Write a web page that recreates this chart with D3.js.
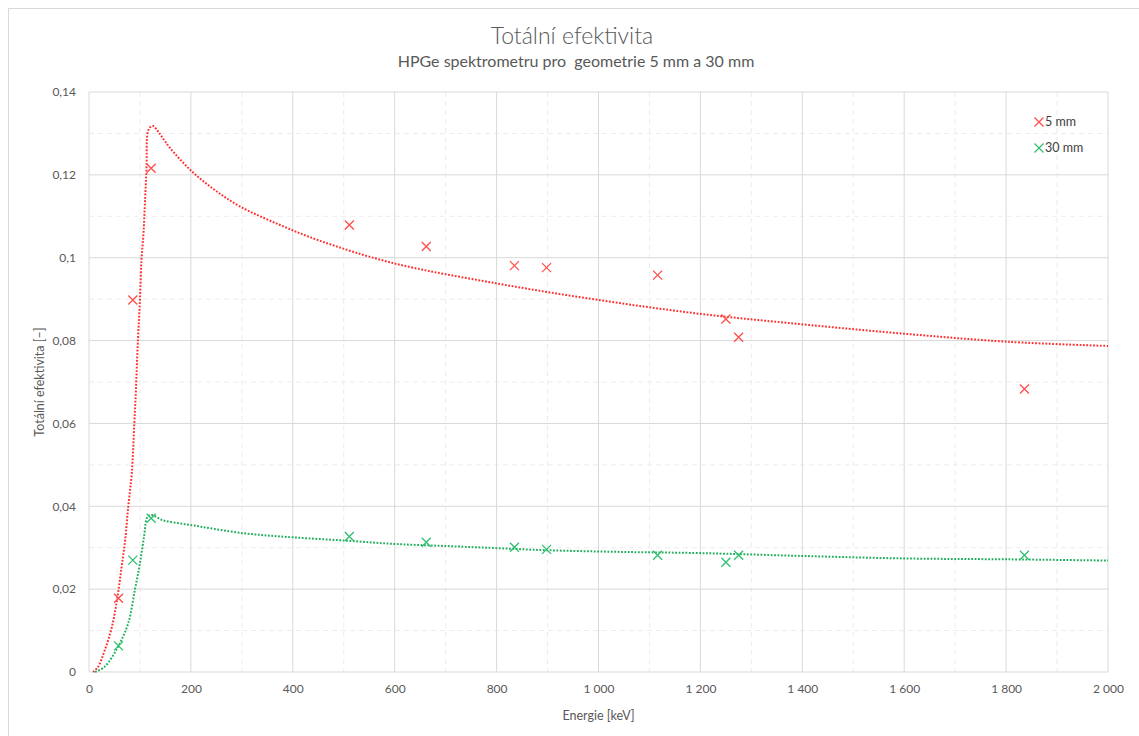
<!DOCTYPE html>
<html>
<head>
<meta charset="utf-8">
<title>Totální efektivita</title>
<script src="https://cdn.jsdelivr.net/npm/d3@7"></script>
<style>
	body { margin: 0; background: #fff; }
	#chart { width: 1139px; height: 736px; }
	text { font-family: Lato, "Open Sans", sans-serif; fill: #595959; }
	.tick text { font-size: 12px; }
	.title { font-size: 23px; font-weight: 300; }
	.subtitle { font-size: 16px; }
	.axisTitle { font-size: 12.5px; }
	.legend text { font-size: 12.5px; fill: #404040; }
</style>
</head>
<body>
<svg id="chart"></svg>
<script>

// measured energies [keV]
var energies = [58, 86, 122, 511, 662, 835, 898, 1116, 1250, 1275, 1836];

// measured efficiency
var eff5 = [0.0178, 0.0898, 0.1216, 0.1079, 0.1027, 0.0981, 0.0976, 0.0958, 0.0852, 0.0808, 0.0683];
var eff30 = [0.0063, 0.0270, 0.0371, 0.0327, 0.0313, 0.0301, 0.0296, 0.0282, 0.0265, 0.0282, 0.0282];

// fitted curves
var fit5E = [8, 18, 31, 45, 56, 64, 71, 77, 84, 89, 92, 96, 100, 103, 107, 110, 113, 115, 120, 126, 136, 143, 159, 198, 244, 296, 375, 453, 597, 800, 1000, 1203, 1402, 1605, 1805, 2000];
var fit5V = [0, 0.0013, 0.0053, 0.0109, 0.0182, 0.0254, 0.0319, 0.0399, 0.0481, 0.0601, 0.0678, 0.0801, 0.0898, 0.0994, 0.106, 0.1139, 0.1219, 0.1301, 0.1315, 0.1318, 0.1304, 0.1292, 0.1265, 0.1213, 0.1166, 0.1124, 0.1079, 0.1041, 0.0987, 0.0938, 0.0898, 0.0864, 0.0839, 0.0816, 0.0797, 0.0787];

var fit30E = [12, 31, 57, 77, 90, 100, 108, 115, 123, 143, 166, 198, 303, 401, 506, 601, 702, 800, 898, 1036, 1199, 1402, 1605, 1801, 2000];
var fit30V = [0, 0.0013, 0.0061, 0.0118, 0.0198, 0.0262, 0.0327, 0.0375, 0.0379, 0.0367, 0.0361, 0.0355, 0.0335, 0.0325, 0.0317, 0.0309, 0.0304, 0.0299, 0.0294, 0.029, 0.0287, 0.028, 0.0274, 0.0272, 0.0269];

var xTicks = d3.range(0, 2001, 200);
var yTicks = [0, 0.02, 0.04, 0.06, 0.08, 0.1, 0.12, 0.14];

var series = [
	{name: '5 mm', pts: eff5, fitE: fit5E, fitV: fit5V, mark: '#ff4d4d', line: '#ff2f2f'},
	{name: '30 mm', pts: eff30, fitE: fit30E, fitV: fit30V, mark: '#2fbf71', line: '#1fae5c'}
];

var cz = d3.formatLocale({decimal: ',', thousands: '\u00a0', grouping: [3], currency: ['', '']});

var svg = d3.select('#chart');

var plotL = 89, plotR = 1108, plotT = 92, plotB = 672;

var x = d3.scaleLinear().domain([0, 2000]).range([plotL, plotR]);
var y = d3.scaleLinear().domain([0, 0.14]).range([plotB, plotT]);

// chart border
svg.append('rect')
	.attr('x', 8.5).attr('y', 8.5)
	.attr('width', 1140).attr('height', 740)
	.attr('fill', 'none').attr('stroke', '#d9d9d9');

// minor grid
svg.append('g').selectAll('line')
	.data(d3.range(100, 2000, 200))
	.enter().append('line')
	.attr('x1', function(d) {return x(d);}).attr('x2', function(d) {return x(d);})
	.attr('y1', plotT).attr('y2', plotB)
	.attr('stroke', '#ececec').attr('stroke-dasharray', '5,4');

svg.append('g').selectAll('line')
	.data([0.01, 0.03, 0.05, 0.07, 0.09, 0.11, 0.13])
	.enter().append('line')
	.attr('y1', function(d) {return y(d);}).attr('y2', function(d) {return y(d);})
	.attr('x1', plotL).attr('x2', plotR)
	.attr('stroke', '#ececec').attr('stroke-dasharray', '5,4');

// major grid
svg.append('g').selectAll('line')
	.data(xTicks)
	.enter().append('line')
	.attr('x1', function(d) {return x(d);}).attr('x2', function(d) {return x(d);})
	.attr('y1', plotT).attr('y2', plotB)
	.attr('stroke', '#d9d9d9');

svg.append('g').selectAll('line')
	.data(yTicks)
	.enter().append('line')
	.attr('y1', function(d) {return y(d);}).attr('y2', function(d) {return y(d);})
	.attr('x1', plotL).attr('x2', plotR)
	.attr('stroke', '#d9d9d9');

// axes (labels only)
var xAxis = svg.append('g')
	.attr('transform', 'translate(0,' + plotB + ')')
	.call(d3.axisBottom(x).tickValues(xTicks).tickSize(0).tickPadding(12).tickFormat(cz.format(',')));
xAxis.select('.domain').remove();

var yAxis = svg.append('g')
	.attr('transform', 'translate(' + plotL + ',0)')
	.call(d3.axisLeft(y).tickValues(yTicks).tickSize(0).tickPadding(13).tickFormat(function(d) {return cz.format('~g')(d);}));
yAxis.select('.domain').remove();

svg.selectAll('g').attr('font-family', null).attr('font-size', null);

// fitted curves
var line = d3.line()
	.x(function(d) {return x(d[0]);})
	.y(function(d) {return y(d[1]);})
	.curve(d3.curveCatmullRom.alpha(0.5));

series.forEach(function(s) {
	svg.append('path')
		.datum(d3.zip(s.fitE, s.fitV))
		.attr('d', line)
		.attr('fill', 'none')
		.attr('stroke', s.line)
		.attr('stroke-width', 2)
		.attr('stroke-dasharray', '1.8,1.6');
});

// markers
function cross(sel, color) {
	sel.append('path')
		.attr('d', 'M-4.5,-4.5L4.5,4.5M-4.5,4.5L4.5,-4.5')
		.attr('stroke', color)
		.attr('stroke-width', 1.3)
		.attr('fill', 'none');
}

series.forEach(function(s) {
	svg.append('g').selectAll('g')
		.data(d3.zip(energies, s.pts))
		.enter().append('g')
		.attr('transform', function(d) {return 'translate(' + x(d[0]) + ',' + y(d[1]) + ')';})
		.call(cross, s.mark);
});

// titles
svg.append('text').classed('title', true)
	.attr('x', 572).attr('y', 44).attr('text-anchor', 'middle')
	.text('Totální efektivita');

svg.append('text').classed('subtitle', true)
	.attr('x', 576).attr('y', 67).attr('text-anchor', 'middle')
	.style('white-space', 'pre')
	.text('HPGe spektrometru pro  geometrie 5 mm a 30 mm');

svg.append('text').classed('axisTitle', true)
	.attr('x', (plotL + plotR) / 2).attr('y', 720).attr('text-anchor', 'middle')
	.text('Energie [keV]');

svg.append('text').classed('axisTitle', true)
	.attr('transform', 'translate(44,' + ((plotT + plotB) / 2) + ') rotate(-90)')
	.attr('text-anchor', 'middle')
	.text('Totální efektivita [–]');

// legend
var legend = svg.append('g').classed('legend', true)
	.attr('transform', 'translate(1039,122)');

var item = legend.selectAll('g')
	.data(series)
	.enter().append('g')
	.attr('transform', function(d, i) {return 'translate(0,' + (i * 26) + ')';});

item.each(function(d) { cross(d3.select(this), d.mark); });

item.append('text')
	.attr('x', 6).attr('y', 4)
	.text(function(d) {return d.name;});

</script>
</body>
</html>
